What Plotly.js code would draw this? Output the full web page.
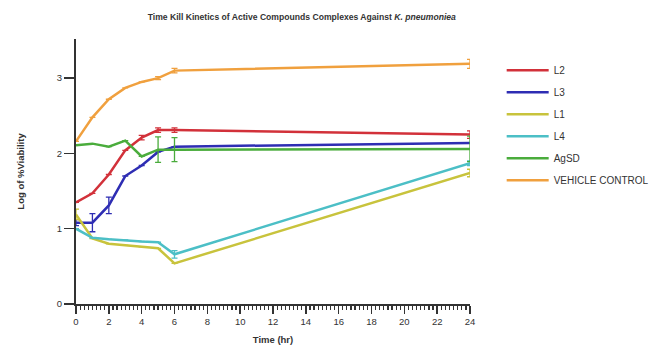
<!DOCTYPE html>
<html>
<head>
<meta charset="utf-8">
<script src="https://cdn.plot.ly/plotly-3.0.1.min.js"></script>
<style>html,body{margin:0;padding:0;background:#fff;}#chart{width:649px;height:345px;}</style>
</head>
<body>
<div id="chart"></div>
<script>
var time = [0, 1, 2, 3, 4, 5, 6, 24];

var seriesNames = ["L2", "L3", "L1", "L4", "AgSD", "VEHICLE CONTROL"];
var seriesColors = ["#d2313a", "#2e2db3", "#c8c33c", "#4cbfc6", "#4aac3c", "#f0a03e"];

var L2 = [1.35, 1.47, 1.72, 2.04, 2.21, 2.31, 2.31, 2.25];
var L2_err = [0, 0, 0, 0, 0.03, 0.03, 0.03, 0.05];

var L3 = [1.08, 1.08, 1.31, 1.70, 1.84, 2.02, 2.09, 2.14];
var L3_err = [0.04, 0.12, 0.11, 0, 0, 0, 0, 0];

var L1 = [1.19, 0.87, 0.80, 0.78, 0.76, 0.74, 0.54, 1.74];
var L1_err = [0.07, 0, 0, 0, 0, 0, 0, 0.05];

var L4 = [1.00, 0.88, 0.86, 0.85, 0.83, 0.82, 0.66, 1.87];
var L4_err = [0, 0, 0, 0, 0, 0, 0.05, 0.03];

var AgSD = [2.11, 2.13, 2.09, 2.17, 1.96, 2.05, 2.05, 2.06];
var AgSD_err = [0, 0, 0, 0, 0, 0.17, 0.16, 0.17];

var VC = [2.16, 2.48, 2.72, 2.87, 2.95, 3.00, 3.10, 3.19];
var VC_err = [0, 0, 0, 0, 0, 0.02, 0.03, 0.06];

var values = [L2, L3, L1, L4, AgSD, VC];
var errors = [L2_err, L3_err, L1_err, L4_err, AgSD_err, VC_err];

var xTickVals = [0, 2, 4, 6, 8, 10, 12, 14, 16, 18, 20, 22, 24];
var yTickVals = [0, 1, 2, 3];

var traces = seriesNames.map(function (name, i) {
  return {
    x: time,
    y: values[i],
    name: name,
    legendgroup: "g" + i,
    type: "scatter",
    mode: "lines",
    cliponaxis: false,
    line: {color: seriesColors[i], width: 2.5},
    error_y: {type: "data", array: errors[i], visible: true, color: seriesColors[i], thickness: 1.3, width: 3}
  };
});

var layout = {
  width: 649,
  height: 345,
  margin: {l: 76, r: 179, t: 39, b: 41},
  paper_bgcolor: "#fff",
  plot_bgcolor: "#fff",
  font: {family: "Liberation Sans, Arial, sans-serif", color: "#333", size: 9},
  title: {
    text: "<b>Time Kill Kinetics of Active Compounds Complexes Against <i>K. pneumoniea</i></b>",
    font: {size: 8.6, color: "#333"},
    x: 0.465, xanchor: "center", y: 0.95, yanchor: "middle"
  },
  xaxis: {
    range: [0, 24],
    tickvals: xTickVals,
    ticks: "outside", ticklen: 8, tickwidth: 1.5, tickcolor: "#333",
    minor: {dtick: 0.25, ticks: "outside", ticklen: 4, tickwidth: 1.2, tickcolor: "#333"},
    showline: true, linecolor: "#333", linewidth: 2,
    showgrid: false, zeroline: false,
    tickfont: {size: 9.5, color: "#333"},
    title: {text: "<b>Time (hr)</b>", font: {size: 9.5, color: "#333"}, standoff: 18}
  },
  yaxis: {
    range: [0, 3.52],
    tickvals: yTickVals,
    ticks: "outside", ticklen: 10, tickwidth: 1.5, tickcolor: "#333",
    showline: true, linecolor: "#333", linewidth: 2,
    showgrid: false, zeroline: false,
    tickfont: {size: 9.5, color: "#333"},
    title: {text: "<b>Log of %Viability</b>", font: {size: 9.5, color: "#333"}, standoff: 30}
  },
  showlegend: true,
  legend: {
    xref: "container", x: 0.773, xanchor: "left",
    y: 0.937, yanchor: "top",
    font: {size: 10, color: "#333"},
    tracegroupgap: 3,
    itemwidth: 42,
    bgcolor: "rgba(0,0,0,0)"
  }
};

Plotly.newPlot("chart", traces, layout, {displayModeBar: false, staticPlot: true});
</script>
</body>
</html>
